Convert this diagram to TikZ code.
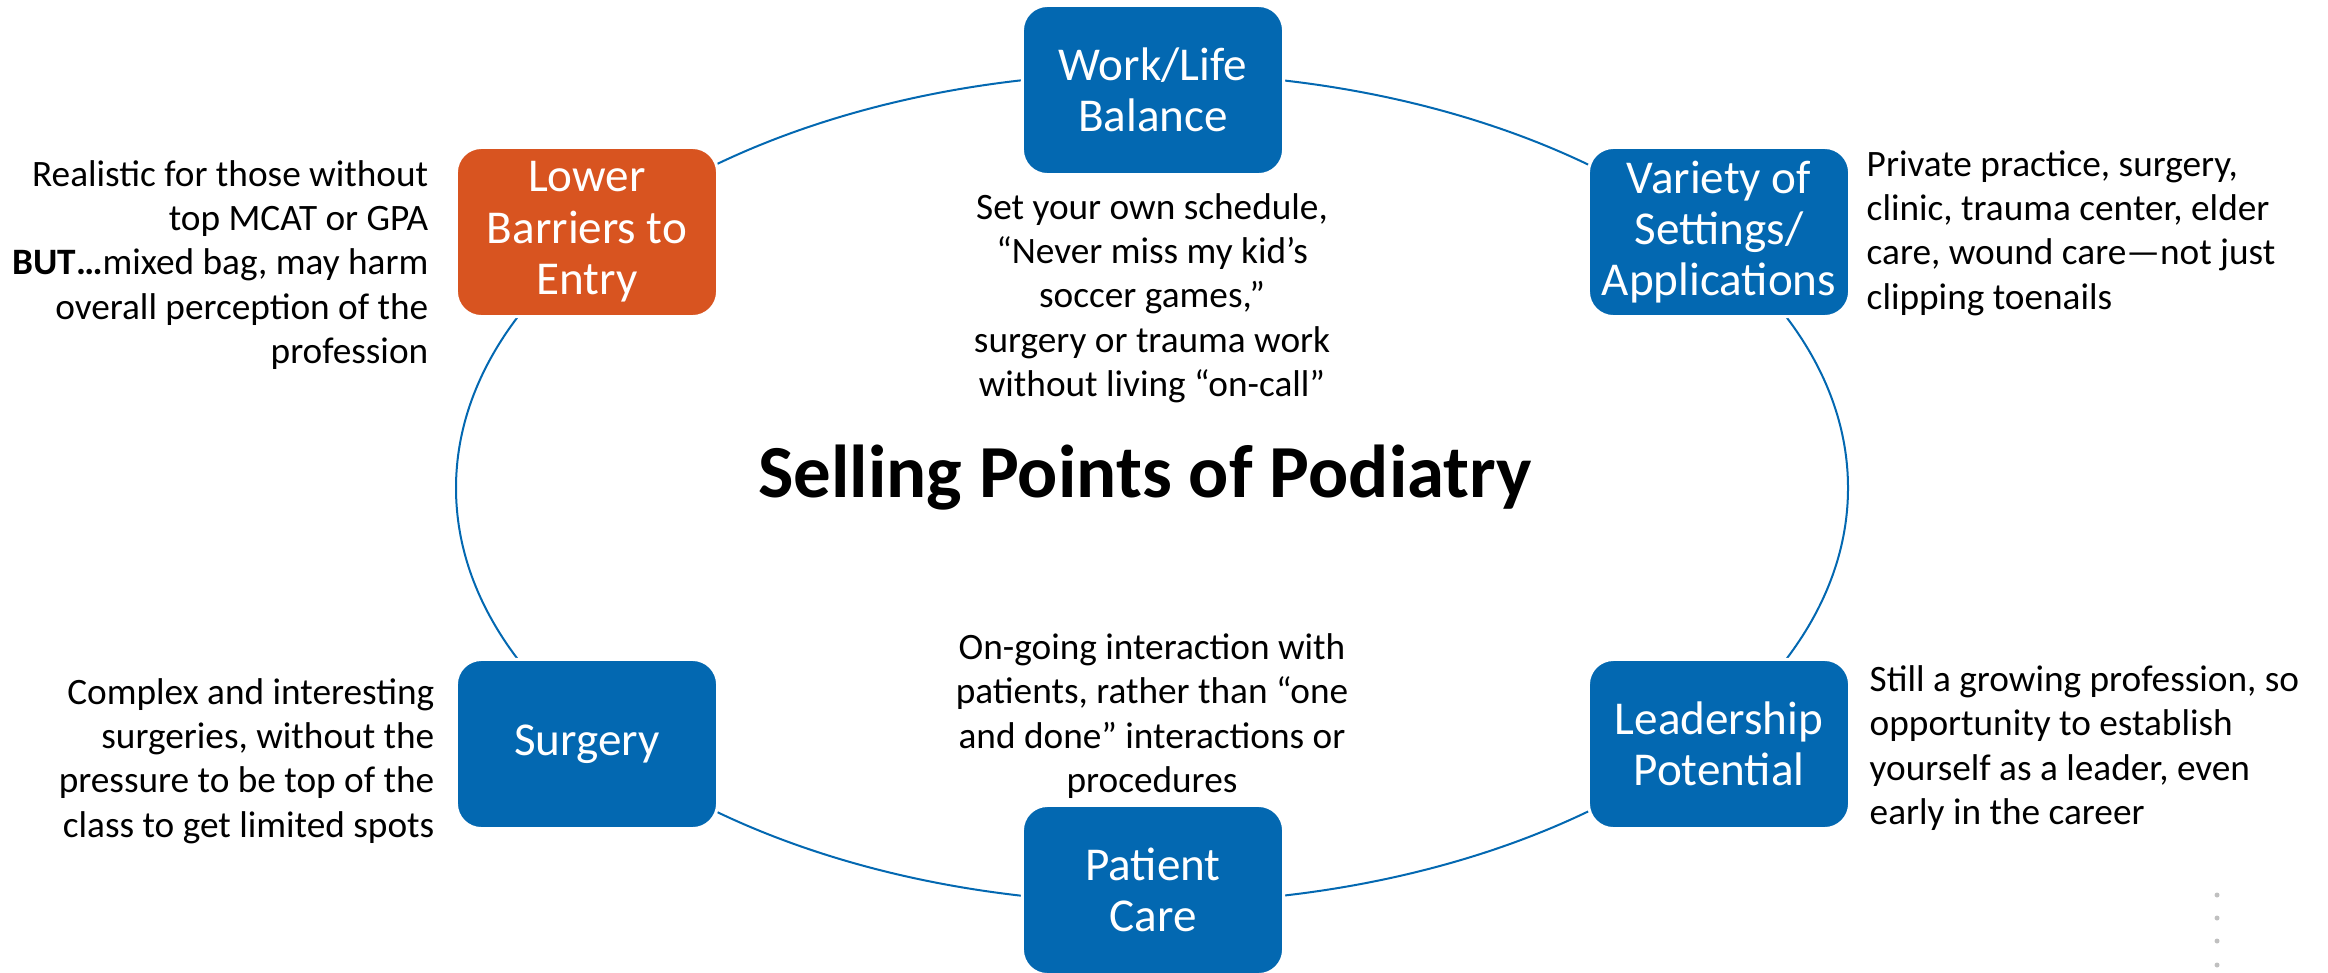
\documentclass[tikz,border=0pt]{standalone}
\usepackage{fontspec}
\setmainfont{Carlito}
\definecolor{boxblue}{RGB}{3,104,177}
\definecolor{boxorange}{RGB}{216,84,32}
\definecolor{dotgray}{RGB}{150,150,150}
\tikzset{
  pbox/.style={rectangle, rounded corners=0.25cm, fill=boxblue, draw=white, line width=0.03cm,
    minimum width=2.61cm, minimum height=1.69cm, text=white, align=center, inner sep=0pt,
    font=\fontsize{13.4pt}{14.6pt}\selectfont},
  obox/.style={pbox, fill=boxorange},
  desc/.style={inner sep=0pt, text=black, font=\fontsize{10.6pt}{12.6pt}\selectfont},
  cyc/.style={draw=boxblue, line width=0.02cm},
}
\begin{document}
\begin{tikzpicture}[x=0.01cm, y=-0.01cm]
\useasboundingbox (0,0) rectangle (2328,972);
\coordinate (c) at (1152,488);
\draw[cyc] (c) ellipse [x radius=696, y radius=415];
\node[pbox] (work) at (1153,90) {Work/Life\\Balance};
\node[obox] (lower) at (587,232) {Lower\\Barriers to\\Entry};
\node[pbox] (variety) at (1719,232) {Variety of\\Settings/\\Applications};
\node[pbox] (surgery) at (587,744) {Surgery};
\node[pbox] (leader) at (1719,744) {Leadership\\Potential};
\node[pbox] (patient) at (1153,890) {Patient\\Care};
\node[font=\fontsize{21.3pt}{25pt}\selectfont\bfseries, inner sep=0pt] (title) at (1145,478) {Selling Points of Podiatry};
\node[desc, align=right, anchor=east] (dlower) at (429,265) {Realistic for those without\\top MCAT or GPA\\\textbf{BUT…}mixed bag, may harm\\overall perception of the\\profession};
\node[desc, align=center] (dwork) at (1152,298) {Set your own schedule,\\“Never miss my kid’s\\soccer games,”\\surgery or trauma work\\without living “on-call”};
\node[desc, align=left, anchor=west] (dvariety) at (1866,233) {Private practice, surgery,\\clinic, trauma center, elder\\care, wound care—not just\\clipping toenails};
\node[desc, align=right, anchor=east] (dsurgery) at (435,761) {Complex and interesting\\surgeries, without the\\pressure to be top of the\\class to get limited spots};
\node[desc, align=center] (dpatient) at (1152,716) {On-going interaction with\\patients, rather than “one\\and done” interactions or\\procedures};
\node[desc, align=left, anchor=west] (dleader) at (1869,748) {Still a growing profession, so\\opportunity to establish\\yourself as a leader, even\\early in the career};
\foreach \yy in {895,918,941,965} \fill[dotgray!60] (2217,\yy) circle (2.5);
\end{tikzpicture}
\end{document}
